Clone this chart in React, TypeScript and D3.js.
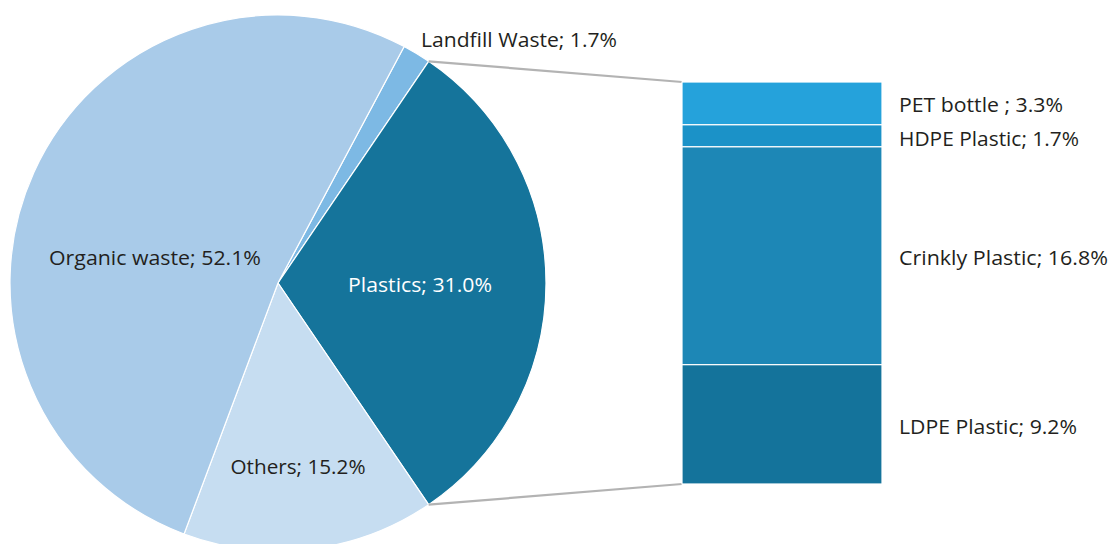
import React from "react";
import * as d3 from "d3";

const pieCategories = ["Landfill Waste", "Plastics", "Others", "Organic waste"];
const pieValues = [1.7, 31.0, 15.2, 52.1];
const pieColors = ["#7db9e4", "#15749b", "#c6ddf1", "#a9cbe9"];

const barCategories = ["PET bottle ", "HDPE Plastic", "Crinkly Plastic", "LDPE Plastic"];
const barValues = [3.3, 1.7, 16.8, 9.2];
const barColors = ["#25a2db", "#1b92c8", "#1d87b6", "#14739b"];

const W = 1113;
const H = 544;

export default function App() {
  const cx = 278, cy = 283, r = 268;
  const total = d3.sum(pieValues);
  const plasticsShare = pieValues[1] / total;
  const landfillShare = pieValues[0] / total;
  const half = plasticsShare * Math.PI;
  const start = Math.PI / 2 - half - landfillShare * 2 * Math.PI;

  const pie = d3
    .pie<number>()
    .sort(null)
    .value((d) => d)
    .startAngle(start)
    .endAngle(start + 2 * Math.PI);
  const arcs = pie(pieValues);
  const arc = d3.arc<d3.PieArcDatum<number>>().innerRadius(0).outerRadius(r);

  const barX = 682, barW = 200, barTop = 82, barBottom = 484;
  const barTotal = d3.sum(barValues);
  const y = d3.scaleLinear().domain([0, barTotal]).range([barTop, barBottom]);
  const cum = d3.cumsum(barValues);

  const pl = arcs[1];
  const p1 = [cx + r * Math.sin(pl.startAngle), cy - r * Math.cos(pl.startAngle)];
  const p2 = [cx + r * Math.sin(pl.endAngle), cy - r * Math.cos(pl.endAngle)];

  const font = "'Open Sans', 'Noto Sans', sans-serif";
  const fs = 20.5;
  const pieLabelPos: [number, number, string][] = [
    [421, 47, "start"],
    [420, 292, "middle"],
    [298, 474, "middle"],
    [155, 265, "middle"],
  ];
  const pieLabelWidths = [196, 144, 135, 212];
  const barLabelY = [112, 146, 265, 434];
  const barLabelWidths = [164, 180, 209, 178];

  return (
    <svg width={W} height={H} style={{ position: "absolute", left: 0, top: 0 }}>
      <rect width={W} height={H} fill="#ffffff" />
      <g transform={`translate(${cx},${cy})`}>
        {arcs.map((a, i) => (
          <path key={i} d={arc(a) || ""} fill={pieColors[i]} stroke="#ffffff" strokeWidth={1.2} />
        ))}
      </g>
      <line x1={p1[0]} y1={p1[1]} x2={barX} y2={barTop} stroke="#b3b3b3" strokeWidth={2.2} />
      <line x1={p2[0]} y1={p2[1]} x2={barX} y2={barBottom} stroke="#b3b3b3" strokeWidth={2.2} />
      {barValues.map((v, i) => (
        <rect
          key={i}
          x={barX}
          y={y(cum[i] - v)}
          width={barW}
          height={y(cum[i]) - y(cum[i] - v)}
          fill={barColors[i]}
          stroke="#ffffff"
          strokeWidth={1.2}
        />
      ))}
      {pieCategories.map((c, i) => (
        <text
          key={c}
          x={pieLabelPos[i][0]}
          y={pieLabelPos[i][1]}
          textAnchor={pieLabelPos[i][2] as any}
          fontFamily={font}
          fontSize={fs}
          fill={i === 1 ? "#ffffff" : "#231f20"}
          textLength={pieLabelWidths[i]}
          lengthAdjust="spacingAndGlyphs"
        >
          {`${c}; ${pieValues[i].toFixed(1)}%`}
        </text>
      ))}
      {barCategories.map((c, i) => (
        <text
          key={c}
          x={899}
          y={barLabelY[i]}
          fontFamily={font}
          fontSize={fs}
          fill="#231f20"
          textLength={barLabelWidths[i]}
          lengthAdjust="spacingAndGlyphs"
        >
          {`${c}; ${barValues[i].toFixed(1)}%`}
        </text>
      ))}
    </svg>
  );
}
